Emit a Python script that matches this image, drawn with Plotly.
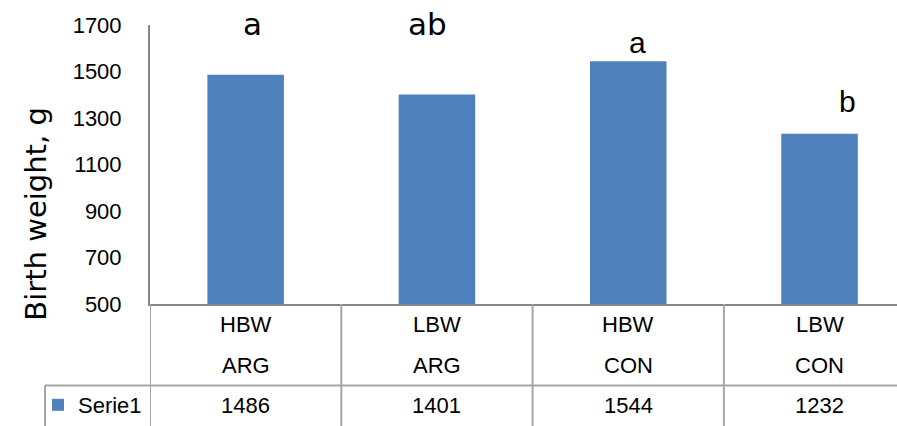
import plotly.graph_objects as go

# ---- data ----
weight_class = ["HBW", "LBW", "HBW", "LBW"]
treatment = ["ARG", "ARG", "CON", "CON"]
birth_weight = [1486, 1401, 1544, 1232]
sig_letters = ["a", "ab", "a", "b"]
letter_levels = [1704, 1704, 1625, 1370]   # y-value where each letter sits
letter_shift = [7, -9, 9, 28]               # small horizontal nudge (px)
series_name = "Serie1"
y_ticks = [500, 700, 900, 1100, 1300, 1500, 1700]
y_range = [500, 1700]

W, H = 897, 426
ML, MT, MB = 150, 25, 120
plot_w = W - ML
plot_h = H - MT - MB
cat_w = 191.3
x_hi = -0.5 + plot_w / cat_w

BLUE = "#4F81BD"
AX = "#868686"
TBL = "#A6A6A6"
FONT = "Liberation Sans, Arial, sans-serif"
FS = 22

x = list(range(len(birth_weight)))

fig = go.Figure()
fig.add_trace(go.Bar(
    x=x, y=birth_weight, width=0.4, marker_color=BLUE,
    marker_line_width=0, name=series_name, showlegend=True, hoverinfo="skip",
))

def py(pix):
    """pixel row (from top of figure) -> paper y"""
    return (MT + plot_h - pix) / plot_h

def px(pix):
    return (pix - ML) / plot_w

def val2paper(v):
    return (v - y_range[0]) / (y_range[1] - y_range[0])

ann = []
# significance letters (placed via value -> paper so they are not hidden above the range)
for i, (lab, lv, sh) in enumerate(zip(sig_letters, letter_levels, letter_shift)):
    big = i < 2
    ann.append(dict(
        x=i, y=val2paper(lv), xref="x", yref="paper", text=lab, showarrow=False,
        xshift=sh, yanchor="middle",
        font=dict(family="DejaVu Sans" if big else FONT, size=31 if big else 30, color="black"),
    ))

# data table text
for i in x:
    for txt, row in ((weight_class[i], 327), (treatment[i], 368), (str(birth_weight[i]), 408)):
        ann.append(dict(x=i, y=py(row), xref="x", yref="paper", text=txt,
                        showarrow=False, yanchor="middle",
                        font=dict(family=FONT, size=FS, color="black")))

# y axis title
ann.append(dict(x=px(36), y=py(215), xref="paper", yref="paper", text="Birth weight, g",
                textangle=-90, showarrow=False, xanchor="center", yanchor="middle",
                font=dict(family="DejaVu Sans", size=29, color="black")))

shapes = []
bottom = py(H + 5)
for b in [-0.5, 0.5, 1.5, 2.5]:
    shapes.append(dict(type="line", xref="x", yref="paper", x0=b, x1=b, y0=0, y1=bottom,
                       line=dict(color=TBL, width=2)))
shapes.append(dict(type="line", xref="paper", yref="paper", x0=px(45), x1=1.01, y0=py(388), y1=py(388),
                   line=dict(color=TBL, width=2)))
shapes.append(dict(type="line", xref="paper", yref="paper", x0=px(45), x1=px(45), y0=py(388), y1=bottom,
                   line=dict(color=TBL, width=2)))

fig.update_layout(
    width=W, height=H,
    margin=dict(l=ML, r=0, t=MT, b=MB),
    paper_bgcolor="white", plot_bgcolor="white",
    font=dict(family=FONT, size=FS, color="black"),
    bargap=0.6,
    xaxis=dict(range=[-0.5, x_hi], showticklabels=False, ticks="", showgrid=False,
               zeroline=False, showline=True, linecolor=AX, linewidth=2),
    yaxis=dict(range=y_range, tickvals=y_ticks, showgrid=False, zeroline=False,
               showline=True, linecolor=AX, linewidth=2, ticks="",
               ticklabelstandoff=22, tickfont=dict(family=FONT, size=FS, color="black")),
    annotations=ann,
    shapes=shapes,
    legend=dict(x=px(38), y=py(408), xanchor="left", yanchor="middle",
                bgcolor="rgba(0,0,0,0)", font=dict(family=FONT, size=FS, color="black"),
                borderwidth=0),
)

fig.write_html("out.html", config={"displayModeBar": False},
               post_script="document.body.style.margin='0';")
